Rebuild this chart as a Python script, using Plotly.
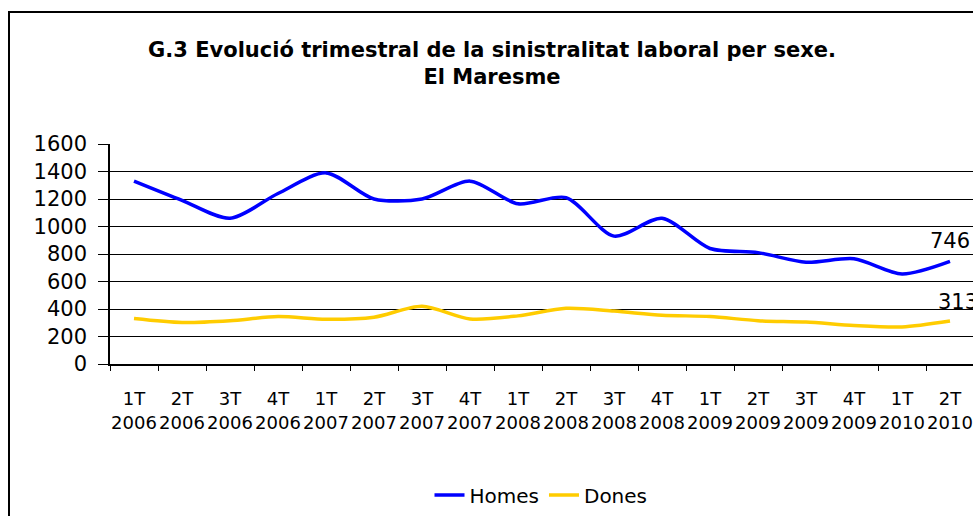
import plotly.graph_objects as go

quarters = ["1T<br>2006", "2T<br>2006", "3T<br>2006", "4T<br>2006",
            "1T<br>2007", "2T<br>2007", "3T<br>2007", "4T<br>2007",
            "1T<br>2008", "2T<br>2008", "3T<br>2008", "4T<br>2008",
            "1T<br>2009", "2T<br>2009", "3T<br>2009", "4T<br>2009",
            "1T<br>2010", "2T<br>2010"]
homes = [1330, 1190, 1060, 1240, 1390, 1200, 1200, 1330,
         1165, 1210, 930, 1060, 840, 810, 740, 765, 655, 746]
dones = [331, 302, 315, 345, 325, 340, 420, 328,
         350, 405, 385, 355, 345, 315, 305, 280, 270, 313]

W, H = 973, 516
ML, MT = 110, 144
MB = H - 364
MR = 0
pw = W - ML - MR
ph = H - MT - MB

def px_x(sx):
    return (sx - ML) / pw

def px_y(sy):
    return (MT + ph - sy) / ph

fig = go.Figure()
fig.add_trace(go.Scatter(
    x=quarters, y=homes, name="Homes", mode="lines",
    line=dict(color="#0000FF", width=3.5, shape="spline", smoothing=0.8),
    cliponaxis=False))
fig.add_trace(go.Scatter(
    x=quarters, y=dones, name="Dones", mode="lines",
    line=dict(color="#FFCC00", width=3.5, shape="spline", smoothing=0.8),
    cliponaxis=False))

# end-of-series value labels
for vals, xs, ys in ((homes, 0, 20), (dones, 8, 19)):
    fig.add_annotation(x=quarters[-1], y=vals[-1], text=str(vals[-1]),
                       showarrow=False, xshift=xs, yshift=ys,
                       xanchor="center", yanchor="middle",
                       font=dict(family="DejaVu Sans", size=21, color="black"))

# outer chart border (left/top visible, rest cut off)
fig.add_shape(type="rect", xref="paper", yref="paper",
              x0=px_x(9), x1=px_x(1000),
              y0=px_y(540), y1=px_y(12),
              line=dict(color="black", width=2), layer="below")

fig.update_layout(
    width=W, height=H,
    margin=dict(l=ML, r=MR, t=MT, b=MB, autoexpand=False),
    paper_bgcolor="white", plot_bgcolor="white",
    font=dict(family="DejaVu Sans", color="black"),
    title=dict(text="<b>G.3 Evolució trimestral de la sinistralitat laboral per sexe.<br>El Maresme</b>",
               x=492 / W, xanchor="center", y=1 - 57 / H, yanchor="top",
               font=dict(family="DejaVu Sans", size=21, color="black")),
    showlegend=True,
    legend=dict(orientation="h", x=px_x(541), xanchor="center",
                y=px_y(495), yanchor="middle",
                font=dict(family="DejaVu Sans", size=20, color="black"),
                tracegroupgap=0),
)
fig.update_xaxes(
    type="category", range=[-0.5, -0.5 + pw / 48],
    showgrid=False, showline=True, linecolor="black", linewidth=1.5,
    ticks="outside", tickson="boundaries", ticklen=5, tickcolor="black",
    tickangle=0, automargin=False,
    tickfont=dict(family="DejaVu Sans", size=18, color="black"),
    ticklabelstandoff=18,
)
fig.update_yaxes(
    range=[0, 1600], dtick=200, tick0=0,
    showgrid=True, gridcolor="black", gridwidth=1,
    zeroline=False, showline=True, linecolor="black", linewidth=1.5,
    ticks="outside", ticklen=10, tickcolor="black", automargin=False,
    tickfont=dict(family="DejaVu Sans", size=21, color="black"),
    ticklabelstandoff=7,
)

fig.write_html("out.html", config={"displayModeBar": False},
               post_script="document.body.style.margin='0';document.body.style.overflow='hidden';")
